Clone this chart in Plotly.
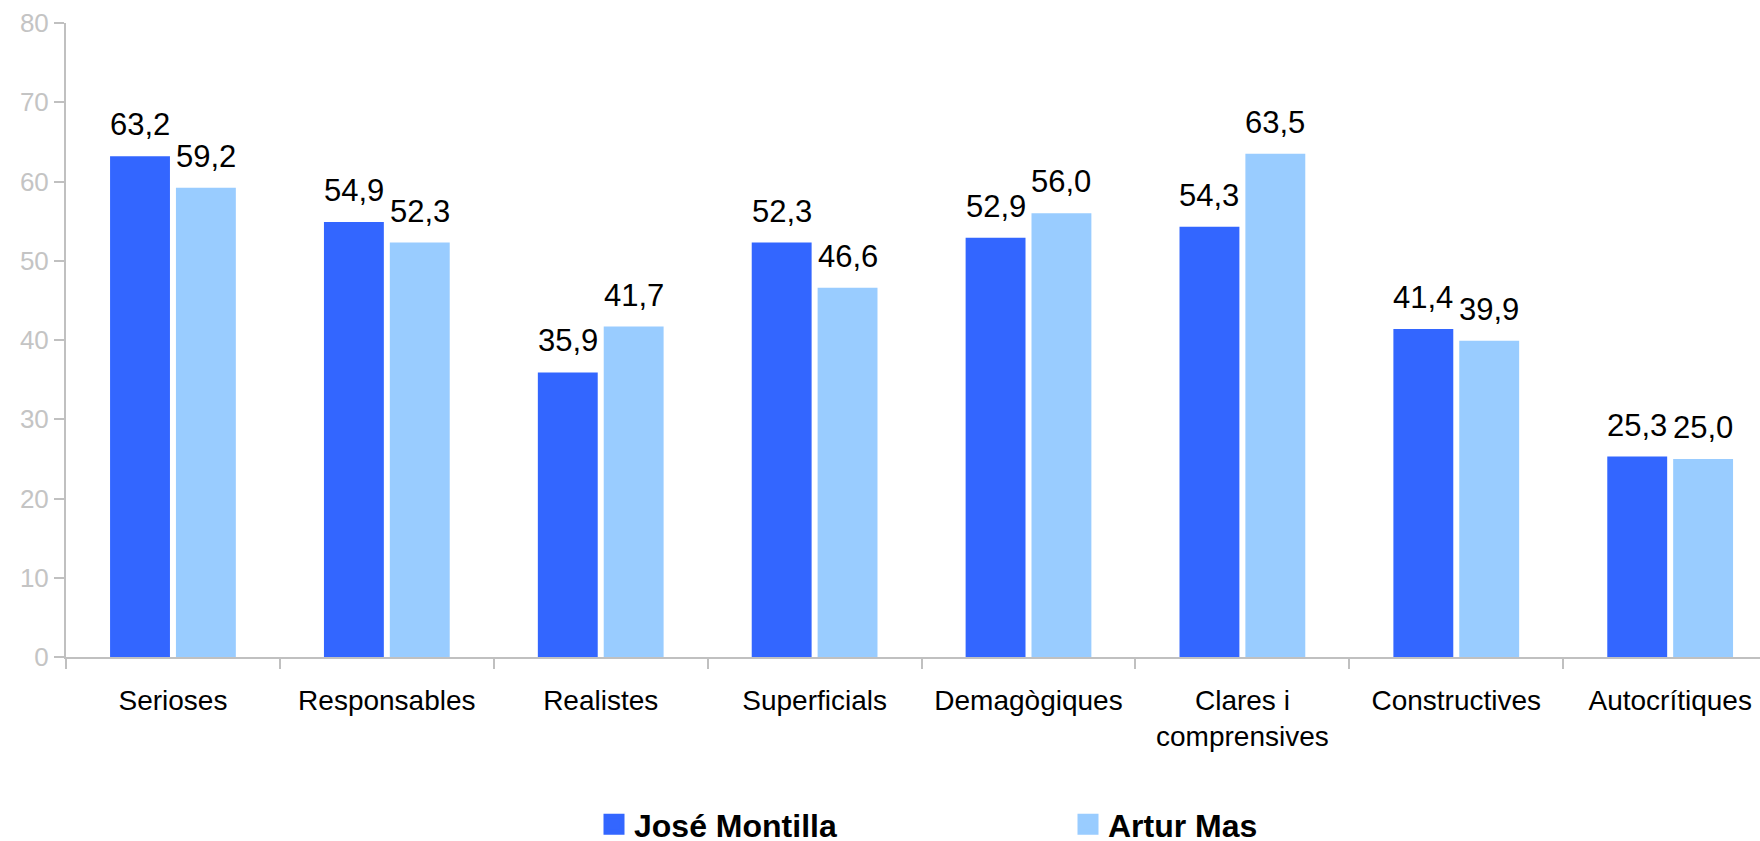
import plotly.graph_objects as go

categories = ["Serioses", "Responsables", "Realistes", "Superficials", "Demagògiques",
              "Clares i<br>comprensives", "Constructives", "Autocrítiques"]
montilla = [63.2, 54.9, 35.9, 52.3, 52.9, 54.3, 41.4, 25.3]
mas = [59.2, 52.3, 41.7, 46.6, 56.0, 63.5, 39.9, 25.0]
series_names = ["José Montilla", "Artur Mas"]
colors = ["#3366FF", "#99CCFF"]
y_ticks = [0, 10, 20, 30, 40, 50, 60, 70, 80]

FONT = "Liberation Sans, Arial, sans-serif"
BAR_W = 0.28
OFFSETS = [-0.294, 0.014]

fig = go.Figure()
for name, vals, col, off in zip(series_names, [montilla, mas], colors, OFFSETS):
    fig.add_trace(go.Bar(
        x=categories, y=vals, name=name, marker=dict(color=col, line=dict(width=0)),
        width=BAR_W, offset=off, cliponaxis=False, showlegend=False))
    fig.add_trace(go.Scatter(
        x=[None], y=[None], mode="markers", name=name,
        marker=dict(symbol="square", size=16, color=col, line=dict(color=col, width=6)),
        showlegend=True))
    for i, v in enumerate(vals):
        fig.add_annotation(
            x=i + off + BAR_W / 2, y=v, xref="x", yref="y",
            text=f"{v:.1f}".replace(".", ","), showarrow=False,
            yanchor="bottom", yshift=12,
            font=dict(family=FONT, size=31, color="black"))

fig.update_layout(
    width=1760, height=841,
    margin=dict(l=66, r=0, t=23, b=184),
    paper_bgcolor="white", plot_bgcolor="white",
    font=dict(family=FONT, color="black"),
    showlegend=True,
    legend=dict(orientation="h", xref="container", yref="container",
                x=594 / 1760, y=1 - 797 / 841, xanchor="left", yanchor="top",
                font=dict(family=FONT, size=32, color="black", weight="bold"),
                entrywidth=429, itemsizing="trace", bgcolor="rgba(0,0,0,0)"),
    xaxis=dict(type="category", range=[-0.5, 7.42], showline=True, linecolor="#c0c0c0",
               linewidth=2, ticks="outside", tickson="boundaries", ticklen=10,
               tickcolor="#c0c0c0", tickwidth=2, showgrid=False, ticklabelstandoff=17,
               tickfont=dict(family=FONT, size=28, color="black")),
    yaxis=dict(range=[0, 80], tickvals=y_ticks, showline=True, linecolor="#c0c0c0",
               linewidth=2, ticks="outside", ticklen=10, tickcolor="#c0c0c0",
               tickwidth=2, showgrid=False, zeroline=False,
               tickfont=dict(family=FONT, size=26, color="#c4c4c4")),
)

fig.write_html("out.html", config={"displayModeBar": False},
               post_script="document.body.style.margin='0';document.body.style.overflow='hidden';")
